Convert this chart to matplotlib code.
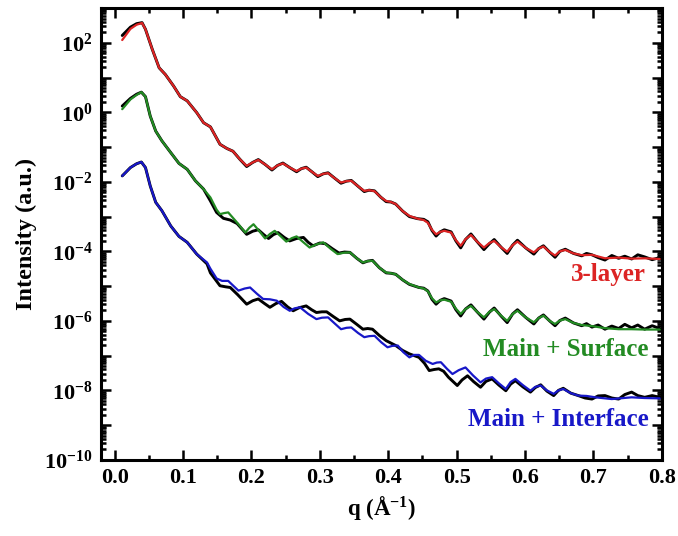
import numpy as np
import matplotlib
matplotlib.use("Agg")
import matplotlib.pyplot as plt
from matplotlib.ticker import LogLocator, MultipleLocator, NullFormatter, FixedLocator

plt.rcParams['font.family'] = ['Liberation Serif', 'DejaVu Serif']
plt.rcParams['font.weight'] = 'bold'
plt.rcParams['mathtext.fontset'] = 'custom'
plt.rcParams['mathtext.rm'] = 'Liberation Serif:bold'
plt.rcParams['mathtext.bf'] = 'Liberation Serif:bold'
plt.rcParams['mathtext.it'] = 'Liberation Serif:bold'

# ---------------- data (log10 intensity) ----------------
q_red = [0.011, 0.023, 0.032, 0.040, 0.045, 0.055, 0.065, 0.074, 0.086, 0.096, 0.106, 0.120, 0.130, 0.140,
         0.154, 0.164, 0.173, 0.183, 0.193, 0.202, 0.210, 0.220, 0.230, 0.238, 0.246, 0.256, 0.266, 0.273,
         0.280, 0.289, 0.297, 0.305, 0.312, 0.322, 0.331, 0.339, 0.346, 0.356, 0.365, 0.372, 0.380, 0.389,
         0.397, 0.404, 0.411, 0.421, 0.431, 0.443, 0.452, 0.458, 0.464, 0.470, 0.476, 0.482, 0.492, 0.499,
         0.506, 0.513, 0.521, 0.530, 0.540, 0.548, 0.555, 0.565, 0.574, 0.582, 0.589, 0.601, 0.613, 0.620,
         0.627, 0.636, 0.644, 0.651, 0.659, 0.671, 0.683, 0.698, 0.717, 0.737, 0.756, 0.775, 0.797]
logI_red_fit = [2.08, 2.40, 2.52, 2.57, 2.39, 1.81, 1.28, 1.09, 0.76, 0.45, 0.33, -0.01, -0.30, -0.42,
                -0.92, -1.04, -1.12, -1.35, -1.54, -1.44, -1.37, -1.50, -1.64, -1.53, -1.47, -1.59, -1.69, -1.62,
                -1.59, -1.72, -1.83, -1.77, -1.75, -1.90, -2.02, -1.98, -1.97, -2.13, -2.26, -2.24, -2.27, -2.44,
                -2.55, -2.58, -2.64, -2.84, -2.98, -3.06, -3.10, -3.18, -3.38, -3.51, -3.44, -3.41, -3.46, -3.68,
                -3.84, -3.65, -3.53, -3.72, -3.89, -3.76, -3.70, -3.88, -4.01, -3.82, -3.72, -3.90, -4.03, -3.92,
                -3.86, -4.02, -4.12, -4.00, -3.96, -4.06, -4.11, -4.10, -4.20, -4.18, -4.21, -4.20, -4.22]

q_red_data = [0.011, 0.023, 0.032, 0.040, 0.045, 0.055, 0.065, 0.074, 0.086, 0.096, 0.106, 0.120, 0.130, 0.140,
              0.154, 0.164, 0.173, 0.183, 0.193, 0.202, 0.210, 0.220, 0.230, 0.238, 0.246, 0.256, 0.266, 0.273,
              0.280, 0.289, 0.297, 0.305, 0.312, 0.322, 0.331, 0.339, 0.346, 0.356, 0.365, 0.372, 0.380, 0.389,
              0.397, 0.404, 0.411, 0.421, 0.431, 0.443, 0.452, 0.458, 0.464, 0.470, 0.476, 0.482, 0.492, 0.499,
              0.506, 0.513, 0.521, 0.530, 0.540, 0.548, 0.555, 0.565, 0.574, 0.582, 0.589, 0.601, 0.613, 0.620,
              0.627, 0.636, 0.644, 0.651, 0.659, 0.671, 0.683, 0.690, 0.698, 0.707, 0.717, 0.727, 0.737, 0.746,
              0.756, 0.765, 0.775, 0.786, 0.797]
logI_red_data = [2.21, 2.45, 2.55, 2.58, 2.39, 1.81, 1.28, 1.09, 0.76, 0.45, 0.33, -0.01, -0.30, -0.42,
                 -0.92, -1.04, -1.12, -1.35, -1.56, -1.44, -1.36, -1.50, -1.66, -1.53, -1.46, -1.59, -1.71, -1.62,
                 -1.58, -1.72, -1.85, -1.77, -1.74, -1.90, -2.04, -1.98, -1.96, -2.13, -2.28, -2.24, -2.26, -2.44,
                 -2.57, -2.58, -2.64, -2.84, -3.00, -3.06, -3.08, -3.15, -3.40, -3.56, -3.44, -3.38, -3.44, -3.70,
                 -3.90, -3.66, -3.50, -3.72, -3.95, -3.78, -3.66, -3.88, -4.06, -3.82, -3.68, -3.90, -4.08, -3.92,
                 -3.84, -4.02, -4.17, -4.00, -3.94, -4.06, -4.13, -4.06, -4.10, -4.18, -4.25, -4.12, -4.20, -4.14,
                 -4.22, -4.10, -4.16, -4.24, -4.18]

q_green = [0.011, 0.023, 0.032, 0.039, 0.045, 0.052, 0.060, 0.069, 0.082, 0.094, 0.106, 0.118, 0.130, 0.140,
           0.149, 0.154, 0.160, 0.166, 0.178, 0.191, 0.197, 0.203, 0.212, 0.220, 0.227, 0.234, 0.243, 0.251,
           0.259, 0.266, 0.276, 0.285, 0.295, 0.305, 0.316, 0.326, 0.335, 0.344, 0.354, 0.363, 0.370, 0.377,
           0.387, 0.397, 0.404, 0.411, 0.421, 0.431, 0.445, 0.452, 0.458, 0.464, 0.470, 0.476, 0.482, 0.492,
           0.499, 0.506, 0.513, 0.521, 0.530, 0.540, 0.548, 0.555, 0.565, 0.574, 0.582, 0.589, 0.601, 0.613,
           0.620, 0.627, 0.636, 0.644, 0.651, 0.659, 0.671, 0.683, 0.698, 0.717, 0.737, 0.756, 0.775, 0.797]
logI_green_fit = [0.09, 0.37, 0.50, 0.58, 0.45, -0.11, -0.54, -0.82, -1.16, -1.47, -1.64, -1.97, -2.21, -2.45,
                  -2.80, -2.93, -2.90, -2.88, -3.15, -3.46, -3.32, -3.22, -3.43, -3.63, -3.50, -3.41, -3.57, -3.72,
                  -3.62, -3.57, -3.74, -3.89, -3.80, -3.74, -3.93, -4.08, -4.04, -4.03, -4.20, -4.32, -4.28, -4.27,
                  -4.47, -4.61, -4.63, -4.66, -4.82, -4.94, -5.04, -5.07, -5.15, -5.35, -5.47, -5.41, -5.39, -5.45,
                  -5.65, -5.80, -5.66, -5.57, -5.74, -5.90, -5.74, -5.66, -5.85, -6.00, -5.80, -5.71, -5.90, -6.04,
                  -5.92, -5.85, -6.00, -6.09, -5.99, -5.95, -6.06, -6.12, -6.15, -6.21, -6.24, -6.24, -6.25, -6.25]

q_green_data = [0.011, 0.023, 0.032, 0.039, 0.045, 0.052, 0.060, 0.069, 0.082, 0.094, 0.106, 0.118, 0.130, 0.140,
                0.149, 0.159, 0.169, 0.179, 0.193, 0.202, 0.210, 0.218, 0.225, 0.232, 0.239, 0.248, 0.256, 0.266,
                0.276, 0.283, 0.290, 0.300, 0.308, 0.318, 0.328, 0.336, 0.344, 0.354, 0.363, 0.370, 0.377, 0.387,
                0.397, 0.404, 0.411, 0.421, 0.431, 0.445, 0.452, 0.458, 0.464, 0.470, 0.476, 0.482, 0.492, 0.499,
                0.506, 0.513, 0.521, 0.530, 0.540, 0.548, 0.555, 0.565, 0.574, 0.582, 0.589, 0.601, 0.613, 0.620,
                0.627, 0.636, 0.644, 0.651, 0.659, 0.671, 0.683, 0.690, 0.698, 0.707, 0.717, 0.727, 0.737, 0.746,
                0.756, 0.765, 0.775, 0.786, 0.797]
logI_green_data = [0.18, 0.40, 0.52, 0.58, 0.45, -0.11, -0.54, -0.82, -1.16, -1.47, -1.64, -1.97, -2.21, -2.55,
                   -2.88, -3.05, -3.10, -3.20, -3.51, -3.42, -3.38, -3.52, -3.63, -3.52, -3.46, -3.60, -3.70, -3.63,
                   -3.60, -3.74, -3.84, -3.76, -3.78, -3.92, -4.05, -4.02, -4.03, -4.20, -4.33, -4.28, -4.26, -4.47,
                   -4.62, -4.63, -4.66, -4.82, -4.95, -5.04, -5.06, -5.14, -5.38, -5.52, -5.41, -5.36, -5.43, -5.68,
                   -5.86, -5.66, -5.54, -5.74, -5.95, -5.75, -5.63, -5.86, -6.05, -5.80, -5.68, -5.90, -6.09, -5.92,
                   -5.83, -6.00, -6.14, -5.99, -5.92, -6.06, -6.14, -6.08, -6.18, -6.12, -6.24, -6.15, -6.22, -6.10,
                   -6.20, -6.12, -6.24, -6.14, -6.22]

q_blue = [0.011, 0.023, 0.032, 0.039, 0.045, 0.052, 0.060, 0.069, 0.082, 0.094, 0.106, 0.120, 0.135, 0.140,
          0.149, 0.157, 0.166, 0.174, 0.181, 0.190, 0.198, 0.208, 0.217, 0.227, 0.237, 0.247, 0.256, 0.263,
          0.271, 0.283, 0.295, 0.303, 0.312, 0.322, 0.331, 0.339, 0.346, 0.356, 0.365, 0.372, 0.380, 0.390,
          0.399, 0.406, 0.414, 0.422, 0.431, 0.438, 0.445, 0.455, 0.465, 0.471, 0.477, 0.486, 0.494, 0.503,
          0.513, 0.524, 0.535, 0.543, 0.552, 0.562, 0.572, 0.579, 0.586, 0.597, 0.608, 0.615, 0.623, 0.632,
          0.642, 0.649, 0.656, 0.667, 0.678, 0.690, 0.703, 0.727, 0.756, 0.775, 0.797]
logI_blue_fit = [-1.83, -1.59, -1.48, -1.43, -1.59, -2.12, -2.59, -2.83, -3.27, -3.57, -3.74, -4.08, -4.32, -4.50,
                 -4.78, -4.85, -4.85, -5.00, -5.13, -5.07, -5.04, -5.22, -5.37, -5.38, -5.42, -5.60, -5.71, -5.64,
                 -5.61, -5.80, -5.95, -5.91, -5.90, -6.08, -6.24, -6.20, -6.19, -6.35, -6.47, -6.44, -6.43, -6.62,
                 -6.76, -6.72, -6.71, -6.90, -7.05, -6.98, -6.98, -7.15, -7.24, -7.20, -7.19, -7.38, -7.53, -7.42,
                 -7.34, -7.57, -7.77, -7.66, -7.62, -7.80, -7.96, -7.76, -7.67, -7.85, -8.01, -7.90, -7.86, -8.00,
                 -8.10, -8.00, -7.96, -8.08, -8.15, -8.16, -8.20, -8.25, -8.20, -8.22, -8.23]

q_blue_data = [0.011, 0.023, 0.032, 0.039, 0.045, 0.052, 0.060, 0.069, 0.082, 0.094, 0.106, 0.120, 0.135, 0.140,
               0.154, 0.162, 0.169, 0.180, 0.193, 0.202, 0.210, 0.219, 0.227, 0.236, 0.244, 0.253, 0.261, 0.270,
               0.280, 0.288, 0.295, 0.303, 0.310, 0.320, 0.329, 0.337, 0.344, 0.354, 0.363, 0.370, 0.377, 0.387,
               0.397, 0.404, 0.411, 0.421, 0.431, 0.438, 0.445, 0.453, 0.460, 0.467, 0.474, 0.481, 0.488, 0.501,
               0.508, 0.516, 0.525, 0.535, 0.543, 0.552, 0.562, 0.572, 0.579, 0.586, 0.597, 0.608, 0.615, 0.623,
               0.632, 0.642, 0.649, 0.656, 0.667, 0.678, 0.688, 0.698, 0.707, 0.717, 0.727, 0.737, 0.746, 0.756,
               0.765, 0.775, 0.786, 0.797]
logI_blue_data = [-1.83, -1.59, -1.48, -1.43, -1.59, -2.12, -2.59, -2.83, -3.27, -3.57, -3.74, -4.08, -4.36, -4.62,
                  -4.99, -5.02, -5.04, -5.25, -5.52, -5.42, -5.37, -5.50, -5.61, -5.50, -5.44, -5.60, -5.71, -5.62,
                  -5.57, -5.68, -5.76, -5.74, -5.74, -5.88, -6.00, -5.96, -5.95, -6.10, -6.24, -6.22, -6.24, -6.42,
                  -6.57, -6.64, -6.71, -6.85, -6.95, -7.00, -7.05, -7.22, -7.43, -7.40, -7.38, -7.45, -7.62, -7.86,
                  -7.70, -7.58, -7.75, -7.91, -7.74, -7.67, -7.85, -8.01, -7.82, -7.72, -7.90, -8.05, -7.92, -7.84,
                  -8.02, -8.15, -8.00, -7.94, -8.08, -8.15, -8.22, -8.25, -8.16, -8.15, -8.22, -8.25, -8.12, -8.05,
                  -8.15, -8.20, -8.15, -8.20]

labels = ["3-layer", "Main + Surface", "Main + Interface"]
label_pos_q = [0.777, 0.781, 0.781]
label_pos_log = [-4.66, -6.81, -8.83]

c_red = '#dc2424'
c_green = '#238b23'
c_blue = '#1818c8'

# ---------------- figure ----------------
fig = plt.figure(figsize=(6.78, 5.36), dpi=100)
ax = fig.add_axes([0.149, 0.142, 0.827, 0.843])

for qd, ld, qf, lf, c in [(q_red_data, logI_red_data, q_red, logI_red_fit, c_red),
                          (q_green_data, logI_green_data, q_green, logI_green_fit, c_green),
                          (q_blue_data, logI_blue_data, q_blue, logI_blue_fit, c_blue)]:
    ax.plot(qd, 10.0 ** np.array(ld), color='black', lw=2.1, zorder=2,
            solid_joinstyle='round', solid_capstyle='round')
    ax.plot(qf, 10.0 ** np.array(lf), color=c, lw=1.6, zorder=3,
            solid_joinstyle='round', solid_capstyle='round')

ax.set_yscale('log')
ax.set_xlim(-0.02, 0.8)
ax.set_ylim(1e-10, 1e3)

xt = np.arange(0, 0.81, 0.1)
ax.set_xticks(xt)
ax.set_xticklabels([f"{v:.1f}" for v in xt])
ax.xaxis.set_minor_locator(MultipleLocator(0.05))

yt = [10.0 ** k for k in range(-10, 4)]
ax.yaxis.set_major_locator(FixedLocator(yt))
ax.set_yticklabels([(r"$10^{%d}$" % k) if k % 2 == 0 and k <= 2 else "" for k in range(-10, 4)])
ax.yaxis.set_minor_locator(LogLocator(base=10, subs=np.arange(2, 10), numticks=30))
ax.yaxis.set_minor_formatter(NullFormatter())

ax.tick_params(which='both', direction='in', top=True, right=True, width=1.8)
ax.tick_params(which='major', length=7, labelsize=16, pad=6)
ax.tick_params(which='minor', length=3.5)
for s in ax.spines.values():
    s.set_linewidth(2.2)

ax.set_xlabel(r"q (Å$^{-1}$)", fontsize=16.5, fontweight='bold', labelpad=4)
ax.set_ylabel("Intensity (a.u.)", fontsize=17.5, fontweight='bold', labelpad=5)

for t, qv, lv, c in zip(labels, label_pos_q, label_pos_log, [c_red, c_green, c_blue]):
    ax.text(qv, 10.0 ** lv, t, color=c, fontsize=18, fontweight='bold', ha='right', va='center')

fig.savefig("out.png", dpi=100)
